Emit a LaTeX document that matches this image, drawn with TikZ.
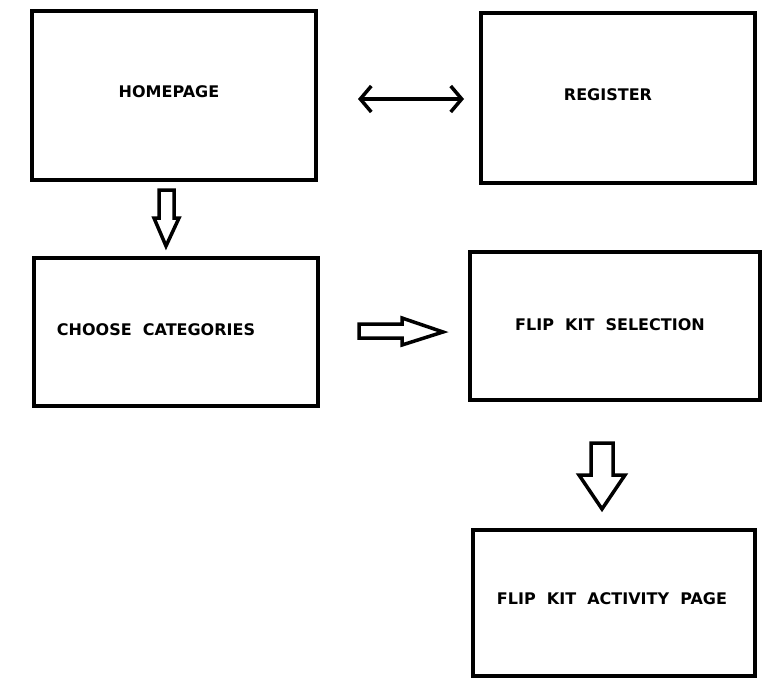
\documentclass[tikz,border=0pt]{standalone}
\usepackage{fontspec}
\newfontfamily\lblfont{DejaVu Sans}[BoldFont={DejaVu Sans Bold},BoldFeatures={WordSpace=2}]
\usetikzlibrary{arrows.meta}
\begin{document}
\begin{tikzpicture}[x=1pt,y=-1pt,
  page/.style={draw=black,line width=4pt},
  lbl/.style={font=\lblfont\bfseries\fontsize{16}{18}\selectfont,inner sep=0pt},
  hollow/.style={draw=black,line width=3.5pt,line join=miter,fill=white},
  link/.style={draw=black,line width=3.5pt,{Straight Barb[length=11pt,width=26pt,line width=3.5pt]}-{Straight Barb[length=11pt,width=26pt,line width=3.5pt]}}]
\useasboundingbox (0,0) rectangle (765,690);
% boxes
\draw[page] (32,11.5) rectangle (316,180);
\draw[page] (481,13) rectangle (755,183);
\draw[page] (34,258) rectangle (318,406);
\draw[page] (470,252) rectangle (760,400);
\draw[page] (473,530) rectangle (755,676);
% labels
\node[lbl] (thome) at (169,92) {HOMEPAGE};
\node[lbl] (treg) at (608,95) {REGISTER};
\node[lbl] (tcat) at (156,330) {CHOOSE CATEGORIES};
\node[lbl] (tsel) at (610,325) {FLIP KIT SELECTION};
\node[lbl] (tact) at (612,599) {FLIP KIT ACTIVITY PAGE};
% double arrow
\coordinate (la) at (358,99);
\coordinate (ra) at (464,99);
\draw[link] (la) -- (ra);
% hollow arrows
\draw[hollow] (159,190) -- (174,190) -- (174,218) -- (179,218) -- (166,246) -- (154,218) -- (159,218) -- cycle;
\draw[hollow] (359,324) -- (402,324) -- (402,318) -- (443,332) -- (402,345) -- (402,338) -- (359,338) -- cycle;
\draw[hollow] (591,443) -- (613,443) -- (613,475) -- (625,475) -- (602,509) -- (579,475) -- (591,475) -- cycle;
\end{tikzpicture}
\end{document}
